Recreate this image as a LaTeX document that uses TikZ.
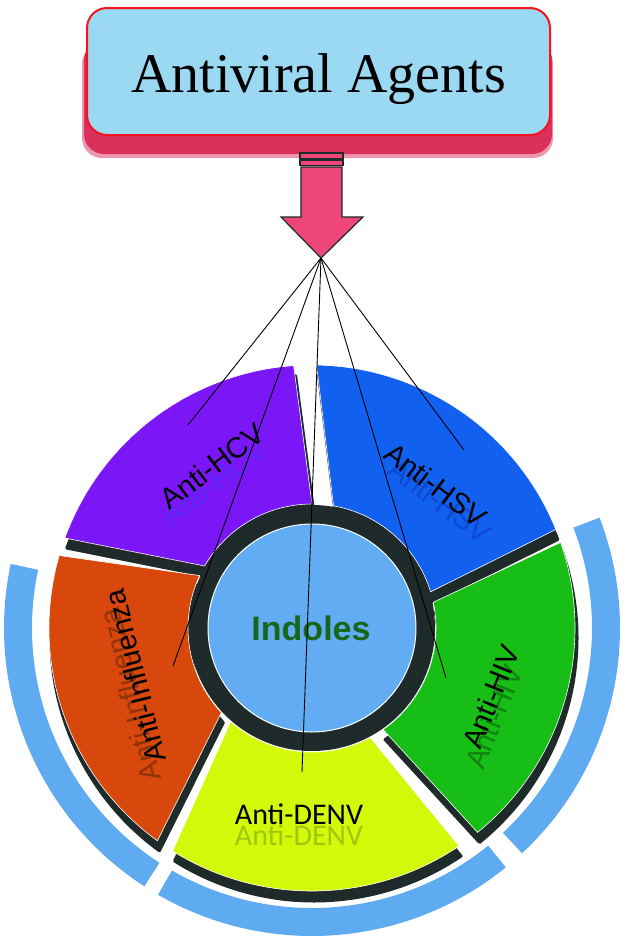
\documentclass[tikz,border=0pt]{standalone}
\usepackage{fontspec}
\setmainfont{Liberation Sans}
\newfontfamily\titlefont{Liberation Serif}
\newfontfamily\denvfont{Carlito}
\usetikzlibrary{positioning}
\definecolor{titlefill}{HTML}{9BD8F2}
\definecolor{titlered}{HTML}{F5141E}
\definecolor{titleshade}{HTML}{D9305C}
\definecolor{arrowpink}{HTML}{EE4678}
\definecolor{edgedark}{HTML}{1E2B2A}
\definecolor{hubblue}{HTML}{62ACF4}
\definecolor{rimblue}{HTML}{5EABF2}
\definecolor{hcvpurple}{HTML}{7B16F6}
\definecolor{hsvblue}{HTML}{1260F0}
\definecolor{fluorange}{HTML}{D8470B}
\definecolor{denvyellow}{HTML}{D4F80A}
\definecolor{hivgreen}{HTML}{17BE16}
\definecolor{indolegreen}{HTML}{17661A}
\definecolor{hcvghostc}{HTML}{3A3CFF}
\definecolor{hsvghostc}{HTML}{0B2FA8}
\definecolor{flughostc}{HTML}{3A1C08}
\definecolor{hivghostc}{HTML}{0A3D0A}
\definecolor{denvghostc}{HTML}{5F8F12}
% ring wedge: style, outer from, outer to, inner from, inner to
\newcommand{\wedgepart}[5]{%
  \filldraw[#1] (#2:263) arc[start angle=#2, end angle=#3, radius=263]
    -- (#5:124) arc[start angle=#5, end angle=#4, radius=124] -- cycle;}
% outer rim piece: from, to
\newcommand{\rimpart}[2]{%
  \fill[rimblue] (#1:308) arc[start angle=#1, end angle=#2, radius=308]
    -- (#2:280) arc[start angle=#2, end angle=#1, radius=280] -- cycle;}

\begin{document}
\begin{tikzpicture}[x=1pt, y=-1pt,
    virustext/.style={font=\fontsize{29}{32}\selectfont, inner sep=0pt},
    ghosttext/.style={virustext, opacity=0.45},
    wedgeshadow/.style={fill=edgedark, draw=edgedark, line width=3pt,
                        line join=round, shift={(2,-10)}},
    spoke/.style={black, line width=0.9pt}]
  \useasboundingbox (0,0) rectangle (626,945);

  % title box
  \fill[titleshade, opacity=0.5, rounded corners=20pt] (82,44) rectangle (553,158);
  \fill[titleshade, rounded corners=20pt] (84,40) rectangle (552,154);
  \node[draw=titlered, fill=titlefill, line width=2pt, rounded corners=20pt,
        minimum width=463pt, minimum height=127pt,
        text height=45pt, text depth=4pt,
        font=\titlefont\fontsize{56}{60}\selectfont]
    (title) at (318.5,71.5) {Antiviral Agents};

  % arrow
  \filldraw[fill=arrowpink, draw=edgedark, line width=1.2pt]
    (300,153) rectangle (343,158.5);
  \filldraw[fill=arrowpink, draw=edgedark, line width=1.2pt]
    (300,160) rectangle (343,165.5);
  \filldraw[fill=arrowpink, draw=edgedark, line width=1.2pt]
    (301,167) -- (342,167) -- (342,217) -- (363,217) -- (321,258)
    -- (281,217) -- (301,217) -- cycle;
  \coordinate (tip) at (321,258);

  % ring
  \begin{scope}[shift={(312,628)}, y=1pt]
    \rimpart{168}{237}
    \rimpart{240}{309}
    \rimpart{313}{381}
    \wedgepart{wedgeshadow}{22}{89}{17}{80}
    \wedgepart{wedgeshadow}{94}{160}{90}{150}
    \wedgepart{wedgeshadow}{164}{234}{155}{223}
    \wedgepart{wedgeshadow}{238}{304}{229}{298}
    \wedgepart{wedgeshadow}{309}{379}{305}{372}
    \wedgepart{fill=hsvblue, draw=white, line width=0.6pt}{22}{89}{17}{80}
    \wedgepart{fill=hcvpurple, draw=white, line width=0.6pt}{94}{160}{90}{150}
    \wedgepart{fill=fluorange, draw=white, line width=0.6pt}{164}{234}{155}{223}
    \wedgepart{fill=denvyellow, draw=white, line width=0.6pt}{238}{304}{229}{298}
    \wedgepart{fill=hivgreen, draw=white, line width=0.6pt}{309}{379}{305}{372}
    \fill[edgedark] (0,0) circle[radius=123];
    \fill[hubblue, draw=white, line width=1pt] (0,0) circle[radius=104];
  \end{scope}

  \node[font=\bfseries\fontsize{34}{36}\selectfont, text=indolegreen]
    (indoles) at (311,628) {Indoles};

  % labels with their blurred copies
  \node[ghosttext, text=hcvghostc, rotate=37] (hcvghost) at (214,483) {Anti-HCV};
  \node[virustext, rotate=37] (hcv) at (212,466) {Anti-HCV};
  \node[ghosttext, text=hsvghostc, rotate=-37] (hsvghost) at (440,501) {Anti-HSV};
  \node[virustext, rotate=-37] (hsv) at (436,485) {Anti-HSV};
  \node[ghosttext, text=flughostc, rotate=104] (flughost) at (130,695) {Anti-Influenza};
  \node[virustext, rotate=104] (flu) at (135,676) {Anti-Influenza};
  \node[ghosttext, text=hivghostc, rotate=68] (hivghost) at (494,717) {Anti-HIV};
  \node[virustext, rotate=68] (hiv) at (491,697) {Anti-HIV};
  \node[ghosttext, text=denvghostc, font=\denvfont\fontsize{30}{32}\selectfont]
    (denvghost) at (299,835) {Anti-DENV};
  \node[virustext, font=\denvfont\fontsize{30}{32}\selectfont]
    (denv) at (299,814) {Anti-DENV};

  % spokes
  \coordinate (hcvend) at (188,425);
  \coordinate (fluend) at (173,666);
  \coordinate (denvend) at (302,772);
  \coordinate (hivend) at (446,678);
  \coordinate (hsvend) at (464,450);
  \draw[spoke] (tip) -- (hcvend);
  \draw[spoke] (tip) -- (fluend);
  \draw[spoke] (tip) -- (denvend);
  \draw[spoke] (tip) -- (hivend);
  \draw[spoke] (tip) -- (hsvend);
\end{tikzpicture}
\end{document}
